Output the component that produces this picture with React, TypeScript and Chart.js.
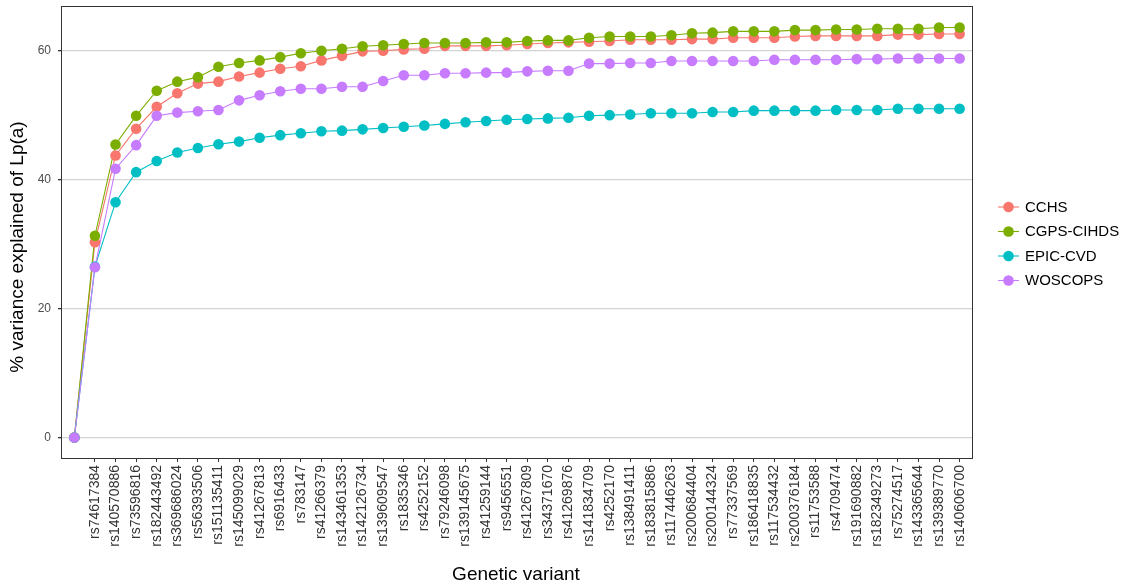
import React, { useEffect, useRef } from "react";
import { Chart, registerables } from "chart.js";

Chart.register(...registerables);

// Genetic variants, added cumulatively along the x axis (first position = no variant)
const variants = [
  "", "rs74617384", "rs140570886", "rs73596816", "rs182443492", "rs369686024",
  "rs56393506", "rs151135411", "rs145099029", "rs41267813", "rs6916433",
  "rs783147", "rs41266379", "rs143461353", "rs142126734", "rs139609547",
  "rs1835346", "rs4252152", "rs79246098", "rs139145675", "rs41259144",
  "rs9456551", "rs41267809", "rs34371670", "rs41269876", "rs141834709",
  "rs4252170", "rs138491411", "rs183815886", "rs117446263", "rs200684404",
  "rs200144324", "rs77337569", "rs186418835", "rs117534432", "rs200376184",
  "rs11753588", "rs4709474", "rs191690882", "rs182349273", "rs75274517",
  "rs143365644", "rs139389770", "rs140606700",
];

// % variance explained of Lp(a) per cohort
const cchs = [
  0, 30.3, 43.75, 47.9, 51.3, 53.4, 54.9, 55.2, 56.0, 56.6, 57.2, 57.6, 58.5,
  59.2, 59.9, 60.0, 60.2, 60.3, 60.75, 60.75, 60.75, 60.85, 61.05, 61.2, 61.3,
  61.4, 61.5, 61.7, 61.7, 61.7, 61.8, 61.8, 62.0, 62.0, 62.0, 62.2, 62.3, 62.3,
  62.3, 62.3, 62.5, 62.5, 62.6, 62.6,
];
const cgpsCihds = [
  0, 31.3, 45.46, 49.9, 53.8, 55.2, 55.9, 57.5, 58.1, 58.5, 59.0, 59.6, 60.0,
  60.3, 60.7, 60.85, 61.05, 61.2, 61.2, 61.2, 61.3, 61.3, 61.5, 61.6, 61.6,
  62.0, 62.2, 62.2, 62.2, 62.4, 62.7, 62.8, 63.0, 63.0, 63.0, 63.2, 63.2, 63.3,
  63.3, 63.4, 63.4, 63.4, 63.6, 63.6,
];
const epicCvd = [
  0, 26.5, 36.5, 41.16, 42.9, 44.2, 44.9, 45.5, 45.9, 46.5, 46.9, 47.2, 47.5,
  47.6, 47.8, 48.0, 48.2, 48.4, 48.65, 48.9, 49.1, 49.3, 49.4, 49.5, 49.6,
  49.9, 50.0, 50.1, 50.3, 50.3, 50.3, 50.5, 50.5, 50.7, 50.7, 50.7, 50.7, 50.8,
  50.8, 50.8, 51.0, 51.0, 51.0, 51.0,
];
const woscops = [
  0, 26.4, 41.7, 45.35, 49.9, 50.4, 50.6, 50.8, 52.3, 53.1, 53.7, 54.1, 54.1,
  54.4, 54.4, 55.3, 56.2, 56.2, 56.5, 56.5, 56.6, 56.6, 56.8, 56.9, 56.9, 58.0,
  58.0, 58.1, 58.1, 58.4, 58.4, 58.4, 58.4, 58.4, 58.6, 58.6, 58.6, 58.6, 58.7,
  58.7, 58.8, 58.8, 58.8, 58.8,
];

const seriesNames = ["CCHS", "CGPS-CIHDS", "EPIC-CVD", "WOSCOPS"];
const seriesColors = ["#F8766D", "#7CAE00", "#00BFC4", "#C77CFF"];
const yTicks = [0, 20, 40, 60];
const xTitle = "Genetic variant";
const yTitle = "% variance explained of Lp(a)";

const FONT = "'Liberation Sans', Arial, Helvetica, sans-serif";

export default function App() {
  const canvasRef = useRef<HTMLCanvasElement>(null);

  useEffect(() => {
    const canvas = canvasRef.current;
    if (!canvas) return;
    const series = [cchs, cgpsCihds, epicCvd, woscops];
    const toPoints = (vals: number[]) => vals.map((v, i) => ({ x: i, y: v }));

    // connecting lines first, then the points on top of every line
    const lineSets = series.map((vals, k) => ({
      label: seriesNames[k],
      data: toPoints(vals),
      showLine: true,
      borderColor: seriesColors[k],
      backgroundColor: seriesColors[k],
      borderWidth: 1.1,
      pointRadius: 0,
      fill: false,
      order: 20 - k,
    }));
    const pointSets = series.map((vals, k) => ({
      label: seriesNames[k] + " points",
      data: toPoints(vals),
      showLine: false,
      pointRadius: 5.3,
      pointBackgroundColor: seriesColors[k],
      pointBorderColor: seriesColors[k],
      pointBorderWidth: 0,
      order: 10 - k,
    }));

    const panelBorder = {
      id: "panelBorder",
      afterDatasetsDraw(chart: any) {
        const { ctx, chartArea: a } = chart;
        ctx.save();
        ctx.strokeStyle = "#333333";
        ctx.lineWidth = 1;
        ctx.strokeRect(a.left - 0.5, a.top - 0.5, a.right - a.left + 1, a.bottom - a.top + 1);
        ctx.restore();
      },
    };

    // axis titles, placed relative to the plotting panel
    const axisTitles = {
      id: "axisTitles",
      afterDraw(chart: any) {
        const { ctx, chartArea: a } = chart;
        ctx.save();
        ctx.fillStyle = "#000000";
        ctx.font = `19px ${FONT}`;
        ctx.textAlign = "center";
        ctx.textBaseline = "middle";
        ctx.fillText(xTitle, (a.left + a.right) / 2 - 1, 575);
        ctx.translate(18, 247);
        ctx.rotate(-Math.PI / 2);
        ctx.fillText(yTitle, 0, 0);
        ctx.restore();
      },
    };

    const sideLegend = {
      id: "sideLegend",
      afterDraw(chart: any) {
        const { ctx } = chart;
        const rows = [207, 231.5, 256, 280.5];
        ctx.save();
        seriesNames.forEach((name, k) => {
          const y = rows[k];
          ctx.strokeStyle = seriesColors[k];
          ctx.lineWidth = 1.1;
          ctx.beginPath();
          ctx.moveTo(998, y);
          ctx.lineTo(1019, y);
          ctx.stroke();
          ctx.fillStyle = seriesColors[k];
          ctx.beginPath();
          ctx.arc(1008.5, y, 5.3, 0, Math.PI * 2);
          ctx.fill();
          ctx.fillStyle = "#000000";
          ctx.font = `15px ${FONT}`;
          ctx.textAlign = "left";
          ctx.textBaseline = "middle";
          ctx.fillText(name, 1025, y + 0.5);
        });
        ctx.restore();
      },
    };

    const chart = new Chart(canvas, {
      type: "scatter",
      data: { datasets: [...lineSets, ...pointSets] as any },
      plugins: [panelBorder, axisTitles, sideLegend],
      options: {
        responsive: false,
        animation: false,
        layout: { padding: { left: 0, top: 7, right: 156, bottom: 0 } },
        plugins: {
          legend: { display: false },
          tooltip: { enabled: false },
        },
        scales: {
          x: {
            type: "linear",
            min: -0.6,
            max: variants.length - 1 + 0.6,
            afterBuildTicks: (s: any) => {
              s.ticks = variants
                .map((_, i) => ({ value: i }))
                .filter((t) => variants[t.value] !== "");
            },
            afterFit: (s: any) => {
              s.height = 130;
              s.paddingLeft = 0;
              s.paddingRight = 0;
            },
            ticks: {
              autoSkip: false,
              minRotation: 90,
              maxRotation: 90,
              padding: 3,
              color: "#333333",
              font: { family: FONT, size: 14 },
              callback: (v: any) => variants[Math.round(Number(v))],
            },
            grid: {
              drawOnChartArea: false,
              drawTicks: true,
              tickLength: 4,
              tickColor: "#333333",
            },
            border: { display: false },
          },
          y: {
            type: "linear",
            min: -3.18,
            max: 66.78,
            afterBuildTicks: (s: any) => {
              s.ticks = yTicks.map((v) => ({ value: v }));
            },
            afterFit: (s: any) => {
              s.width = 62;
              s.paddingTop = 0;
              s.paddingBottom = 0;
            },
            ticks: {
              padding: 7,
              color: "#4d4d4d",
              font: { family: FONT, size: 12 },
            },
            grid: {
              color: "#d4d4d4",
              lineWidth: 1.3,
              drawTicks: true,
              tickLength: 4,
              tickColor: "#333333",
            },
            border: { display: false },
          },
        },
      },
    });

    return () => chart.destroy();
  }, []);

  return (
    <div style={{ position: "fixed", left: 0, top: 0, width: 1128, height: 588, background: "#ffffff" }}>
      <canvas ref={canvasRef} width={1128} height={588} style={{ display: "block" }} />
    </div>
  );
}
